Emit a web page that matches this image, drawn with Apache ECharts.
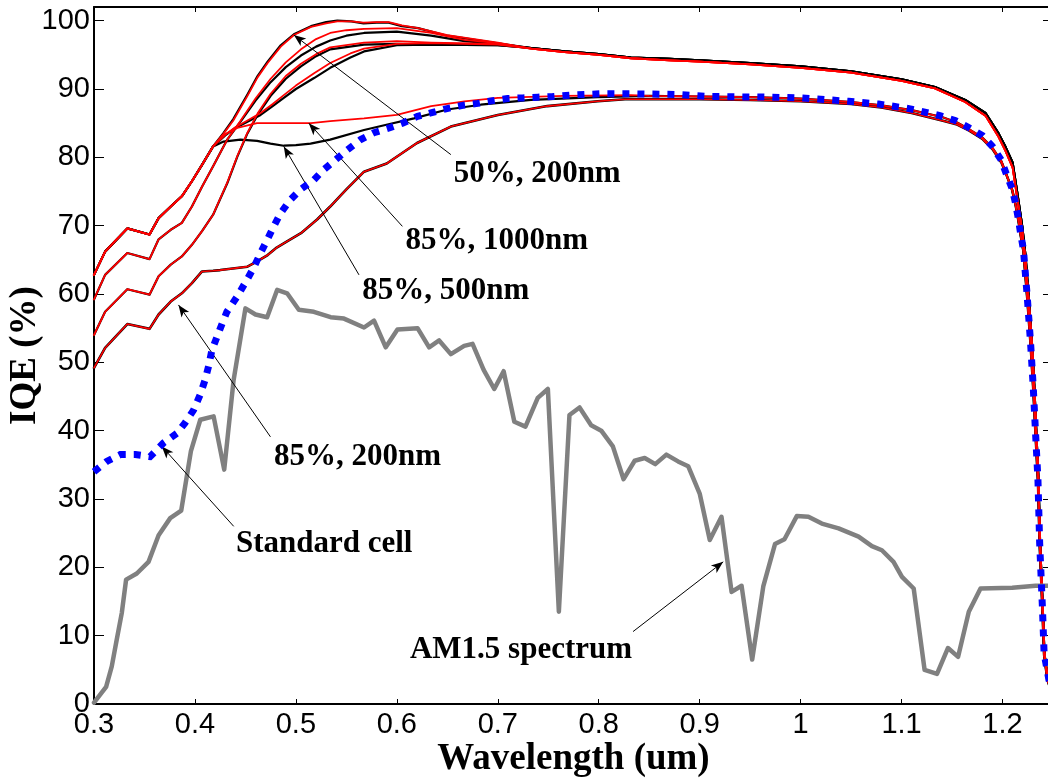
<!DOCTYPE html>
<html>
<head>
<meta charset="utf-8">
<script src="https://cdn.jsdelivr.net/npm/echarts@6.0.0/dist/echarts.min.js"></script>
<style>
html,body{margin:0;padding:0;background:#fff;}
#chart{width:1048px;height:779px;}
</style>
</head>
<body>
<div id="chart"></div>
<script>
// ---- Data ----
// common UV wavelengths (um) shared by the four starting branches
const wlUV = [0.300, 0.311, 0.333, 0.355, 0.364, 0.376, 0.387, 0.397, 0.407, 0.418];
const iqeA = [62.8, 66.2, 69.6, 68.7, 71.1, 72.8, 74.3, 76.5, 78.9, 81.6];
const iqeB = [59.2, 62.8, 66.0, 65.1, 68.0, 69.4, 70.4, 72.8, 75.7, 78.7];
const iqeC = [54.0, 57.4, 60.7, 59.9, 62.6, 64.3, 65.5, 67.2, 69.2, 71.6];
const iqeD = [49.2, 52.1, 55.6, 54.9, 57.0, 58.9, 60.1, 61.6, 63.3, 63.4];

// "50%, 200nm" (top curve), black and red
const u1Black = [[0.428,83.5],[0.438,85.6],[0.452,89.2],[0.462,91.9],[0.472,94.0],[0.485,96.4],[0.498,98.0],[0.515,99.2],[0.530,99.8],[0.541,100.0],[0.555,99.9],[0.567,99.6],[0.580,99.7],[0.592,99.7],[0.605,99.2],[0.621,98.9],[0.650,97.8],[0.700,96.7]];
const u1Red   = [[0.428,83.4],[0.438,85.4],[0.452,89.0],[0.462,91.7],[0.472,93.8],[0.485,96.2],[0.498,97.9],[0.515,99.1],[0.530,99.6],[0.541,99.9],[0.555,99.9],[0.567,99.7],[0.580,99.8],[0.592,99.8],[0.605,99.3],[0.621,98.9],[0.650,97.9],[0.700,96.8]];
// second upper curve pair
const u2Black = [[0.432,82.6],[0.445,85.2],[0.460,88.3],[0.475,91.0],[0.490,93.2],[0.505,94.9],[0.520,96.2],[0.534,97.1],[0.550,97.8],[0.5675,98.2],[0.600,98.4],[0.634,97.8],[0.667,97.0],[0.700,96.6]];
const u2Red   = [[0.432,82.6],[0.445,85.3],[0.460,88.6],[0.475,91.5],[0.490,93.9],[0.505,95.8],[0.520,97.3],[0.534,98.2],[0.550,98.6],[0.5675,98.8],[0.600,98.9],[0.634,98.2],[0.667,97.2],[0.700,96.7]];
// third upper curve pair
const u3Black = [[0.432,76.2],[0.442,80.1],[0.452,83.5],[0.462,86.2],[0.475,89.0],[0.490,91.5],[0.505,93.3],[0.520,94.8],[0.534,95.8],[0.5675,96.5],[0.600,96.6],[0.634,96.5],[0.700,96.4]];
const u3Red   = [[0.432,76.3],[0.442,80.2],[0.452,83.6],[0.462,86.4],[0.475,89.3],[0.490,91.9],[0.505,93.7],[0.520,95.1],[0.534,96.1],[0.5675,96.8],[0.600,97.0],[0.634,96.8],[0.700,96.6]];
// fourth upper curve pair (gentle rise)
const u4Black = [[0.430,83.2],[0.440,84.3],[0.452,85.2],[0.465,86.2],[0.477,87.5],[0.488,88.7],[0.500,90.0],[0.518,91.6],[0.534,93.1],[0.554,94.6],[0.5675,95.5],[0.600,96.4],[0.634,96.5],[0.700,96.4]];
const u4Red   = [[0.430,83.3],[0.440,84.4],[0.452,85.4],[0.465,86.5],[0.477,87.8],[0.488,89.1],[0.500,90.5],[0.518,92.3],[0.534,93.8],[0.554,95.2],[0.5675,95.9],[0.600,96.6],[0.634,96.7],[0.700,96.5]];
// shared long-wavelength part of the upper curves (black, and red just beneath)
const upperTail = [[0.733,96.0],[0.766,95.5],[0.800,95.1],[0.832,94.6],[0.870,94.4],[0.900,94.2],[0.950,93.8],[1.000,93.3],[1.050,92.6],[1.100,91.4],[1.133,90.3],[1.163,88.4],[1.183,86.5],[1.196,83.5],[1.203,81.5],[1.210,79.2],[1.2146,74.8],[1.2195,69.9],[1.2228,65.5],[1.2262,58.8],[1.2295,52.0],[1.2315,46.4],[1.2335,39.6],[1.2356,32.8],[1.2372,23.5],[1.2398,14.2],[1.2415,7.4],[1.2445,4.0],[1.250,1.5]];
const upperTailRed = [[0.733,95.9],[0.766,95.4],[0.800,95.0],[0.832,94.5],[0.870,94.2],[0.900,94.0],[0.950,93.6],[1.000,93.1],[1.050,92.4],[1.100,91.2],[1.133,90.1],[1.163,88.1],[1.183,86.1],[1.196,83.0],[1.203,80.9],[1.210,78.5],[1.2146,74.0],[1.2195,69.2],[1.2228,64.9],[1.2262,58.4],[1.2295,51.7],[1.2315,46.2],[1.2335,39.5],[1.2356,32.7],[1.2372,23.5],[1.2398,14.2],[1.2415,7.4],[1.2445,4.0],[1.250,1.5]];

// "85%, 1000nm" (red) and "85%, 500nm" (black)
const r1000 = [[0.430,83.4],[0.442,84.3],[0.4615,85.0],[0.490,85.0],[0.515,85.0],[0.534,85.3],[0.5675,85.7],[0.600,86.2],[0.634,87.5],[0.667,88.2],[0.700,88.7],[0.766,89.0],[0.832,89.1]];
const b500  = [[0.4284,82.3],[0.445,82.6],[0.4616,82.4],[0.4748,82.0],[0.488,81.7],[0.500,81.8],[0.5145,82.0],[0.534,82.6],[0.5675,84.0],[0.5907,84.8],[0.617,85.7],[0.650,87.0],[0.683,87.7],[0.733,88.4],[0.799,88.8]];
// "85%, 200nm"
const dMid = [[0.425,63.5],[0.452,64.0],[0.462,64.8],[0.472,65.7],[0.481,66.8],[0.490,67.6],[0.505,68.9],[0.521,70.9],[0.534,72.8],[0.550,75.3],[0.5675,77.9],[0.590,79.1],[0.620,82.1],[0.6535,84.5],[0.700,86.2],[0.749,87.5],[0.799,88.2],[0.826,88.5],[0.900,88.5],[0.950,88.4],[1.000,88.2],[1.050,87.8],[1.080,87.3],[1.110,86.5],[1.140,85.4],[1.155,84.8],[1.167,83.9],[1.180,82.7],[1.190,81.2],[1.199,79.2]];
// shared long-wavelength part of the lower curves
const lowerTail = [[0.850,89.0],[0.900,88.9],[0.950,88.8],[1.000,88.6],[1.050,88.1],[1.080,87.6],[1.110,86.9],[1.140,85.9],[1.155,85.1],[1.167,84.1],[1.180,82.9],[1.190,81.4],[1.199,79.4],[1.204,77.4],[1.2096,75.2],[1.213,73.0],[1.2157,70.8],[1.218,68.6],[1.2207,66.3],[1.2245,59.4],[1.2278,52.6],[1.2305,46.0],[1.2328,39.2],[1.2351,32.6],[1.2368,23.3],[1.2395,14.0],[1.2412,7.2],[1.2445,3.5],[1.250,1.2]];

// Standard cell (blue dotted)
const standardCell = [[0.300,34.0],[0.3126,35.5],[0.326,36.5],[0.341,36.5],[0.3556,36.2],[0.3688,38.2],[0.382,39.6],[0.390,41.1],[0.3986,43.0],[0.405,45.2],[0.410,47.4],[0.4135,49.4],[0.4168,51.8],[0.422,53.8],[0.427,55.7],[0.4317,57.4],[0.4417,59.6],[0.4516,62.1],[0.458,63.8],[0.465,66.0],[0.4715,67.9],[0.478,69.9],[0.4847,71.8],[0.4946,73.8],[0.5046,75.3],[0.5178,76.7],[0.5277,78.2],[0.539,79.6],[0.551,81.1],[0.5642,82.6],[0.5774,83.6],[0.5923,84.3],[0.6056,85.0],[0.6205,86.0],[0.6337,86.5],[0.6486,87.1],[0.665,87.6],[0.680,87.9],[0.695,88.3],[0.7098,88.6],[0.7247,88.7],[0.7396,88.8],[0.7545,88.9],[0.771,89.1],[0.786,89.2],[0.8025,89.3],[0.832,89.3],[0.8787,89.2],[0.910,88.9],[0.9713,88.8],[1.001,88.7],[1.0475,88.2],[1.0772,87.8],[1.1086,87.1],[1.138,86.1],[1.153,85.4],[1.166,84.4],[1.180,83.2],[1.190,81.6],[1.1987,79.6],[1.2037,77.6],[1.2096,75.4],[1.213,73.2],[1.2157,71.0],[1.218,68.8],[1.2207,66.5],[1.2245,59.6],[1.2278,52.8],[1.2305,46.2],[1.2328,39.4],[1.2351,32.8],[1.2368,23.5],[1.2395,14.2],[1.2412,7.4],[1.246,3.5],[1.250,2.0]];

// AM1.5 spectrum (grey, scaled)
const am15 = [[0.300,0.2],[0.312,2.5],[0.3176,5.5],[0.3225,9.4],[0.3275,13.3],[0.3318,18.2],[0.3424,19.1],[0.354,20.8],[0.364,24.7],[0.3755,27.2],[0.3864,28.3],[0.396,37.0],[0.4053,41.6],[0.4185,42.1],[0.429,34.3],[0.4383,47.4],[0.450,57.9],[0.460,57.0],[0.4715,56.6],[0.4814,60.6],[0.4913,60.1],[0.5029,57.7],[0.5178,57.4],[0.5344,56.6],[0.5476,56.4],[0.5675,55.1],[0.5774,56.1],[0.589,52.2],[0.6006,54.8],[0.6205,55.0],[0.632,52.2],[0.6419,53.2],[0.6535,51.2],[0.6667,52.4],[0.675,52.7],[0.686,48.9],[0.6965,46.1],[0.7058,48.7],[0.7164,41.3],[0.7274,40.6],[0.7396,44.8],[0.7496,46.1],[0.7605,13.5],[0.771,42.3],[0.781,43.4],[0.7925,40.8],[0.8025,40.0],[0.814,37.7],[0.8246,32.9],[0.8356,35.6],[0.8455,36.0],[0.856,35.1],[0.867,36.5],[0.8786,35.5],[0.8886,34.8],[0.900,30.8],[0.910,24.0],[0.9216,27.4],[0.9316,16.4],[0.9415,17.3],[0.952,6.5],[0.963,17.2],[0.9746,23.4],[0.984,24.1],[0.9962,27.5],[1.0077,27.4],[1.021,26.4],[1.0376,25.7],[1.0574,24.5],[1.0706,23.1],[1.0805,22.5],[1.092,20.8],[1.1004,18.6],[1.112,16.9],[1.1228,5.0],[1.1351,4.4],[1.146,8.2],[1.156,6.9],[1.1666,13.5],[1.1782,16.9],[1.2096,17.0],[1.2328,17.3],[1.250,17.3]];

// annotations: [x, y, text] and arrows [from, to]
const notes = [
  [0.739, 77.6, '50%, 200nm'],
  [0.699, 67.7, '85%, 1000nm'],
  [0.6486, 60.4, '85%, 500nm'],
  [0.561, 36.1, '85%, 200nm'],
  [0.528, 23.4, 'Standard cell'],
  [0.723, 7.9, 'AM1.5 spectrum']
];
const arrows = [
  [[0.6535, 80.4], [0.498, 97.9]],
  [[0.6055, 69.9], [0.5128, 85.0]],
  [[0.5625, 62.8], [0.488, 81.6]],
  [[0.4748, 39.1], [0.3837, 58.4]],
  [[0.4384, 26.0], [0.3672, 37.7]],
  [[0.834, 10.6], [0.9233, 20.8]]
];

// ---- Build ----
const pairs = (xs, ys) => xs.map((x, i) => [x, ys[i]]);
const headA = pairs(wlUV, iqeA), headB = pairs(wlUV, iqeB), headC = pairs(wlUV, iqeC), headD = pairs(wlUV, iqeD);
const lowerFrom1204 = lowerTail.filter(p => p[0] >= 1.204);

function iqeLine(data, color, width, z) {
  return {type: 'line', data, symbol: 'none', showSymbol: false, smooth: false,
    lineStyle: {color, width, join: 'round', cap: 'round'}, z, silent: true, animation: false};
}
const BLACK = '#000000', RED = '#ff0000';
const series = [
  iqeLine(headA.concat(u1Black, upperTail), BLACK, 2.2, 2),
  iqeLine(headB.concat(u2Black, upperTail), BLACK, 2.2, 2),
  iqeLine(headC.concat(u3Black, upperTail), BLACK, 2.2, 2),
  iqeLine(headA.concat(u4Black, upperTail), BLACK, 2.2, 2),
  iqeLine(headA.concat(b500, lowerTail), BLACK, 2.2, 2),
  iqeLine(headD.concat(dMid, lowerFrom1204), BLACK, 2.6, 2),
  iqeLine(headA.concat(u1Red, upperTailRed), RED, 1.8, 3),
  iqeLine(headB.concat(u2Red, upperTailRed), RED, 1.8, 3),
  iqeLine(headC.concat(u3Red, upperTailRed), RED, 1.8, 3),
  iqeLine(headA.concat(u4Red, upperTailRed), RED, 1.8, 3),
  iqeLine(headA.concat(r1000, lowerTail), RED, 1.8, 3),
  iqeLine(headD.concat(dMid, lowerFrom1204), RED, 1.6, 3),
  {type: 'line', data: am15, symbol: 'none', showSymbol: false,
   lineStyle: {color: '#808080', width: 4.5, join: 'round', cap: 'round'}, z: 4, silent: true, animation: false},
  {type: 'line', data: standardCell, symbol: 'none', showSymbol: false,
   lineStyle: {color: '#0000ff', width: 7, type: [7, 8], cap: 'butt', join: 'miter'}, z: 5, silent: true, animation: false},
  {type: 'scatter', data: notes, symbolSize: 0, z: 6, silent: true, animation: false,
   itemStyle: {opacity: 1, color: '#000'},
   label: {show: true, position: 'inside', formatter: p => p.value[2], color: '#000', opacity: 1,
     textBorderWidth: 0, textBorderColor: 'transparent', textShadowBlur: 0,
     fontFamily: 'Liberation Serif', fontWeight: 'bold', fontSize: 31, align: 'center', verticalAlign: 'middle'},
   markLine: {silent: true, animation: false, symbol: ['none', 'arrow'], symbolSize: [7, 12],
     lineStyle: {color: '#000', width: 1, type: 'solid', opacity: 1}, label: {show: false},
     emphasis: {disabled: true},
     data: arrows.map(a => [{coord: a[0]}, {coord: a[1]}])}}
];

const tickFont = {fontFamily: 'Liberation Sans', fontSize: 29, color: '#000'};
const option = {
  backgroundColor: '#fff',
  animation: false,
  grid: {left: 94, top: 7, width: 959, height: 697, containLabel: false, outerBoundsMode: 'none'},
  xAxis: [
    {type: 'value', min: 0.3, max: 1.25, interval: 0.1, position: 'bottom',
     axisLine: {show: true, onZero: false, lineStyle: {color: '#000', width: 2}},
     axisTick: {show: true, inside: true, length: 5, lineStyle: {color: '#000', width: 1}},
     axisLabel: Object.assign({margin: 6, showMaxLabel: false, formatter: v => String(+v.toFixed(2))}, tickFont),
     splitLine: {show: false},
     name: 'Wavelength (um)', nameLocation: 'middle', nameGap: 37, nameMoveOverlap: false,
     nameTextStyle: {fontFamily: 'Liberation Serif', fontWeight: 'bold', fontSize: 37, color: '#000'}},
    {type: 'value', min: 0.3, max: 1.25, interval: 0.1, position: 'top',
     axisLine: {show: true, onZero: false, lineStyle: {color: '#000', width: 2}},
     axisTick: {show: true, inside: true, length: 5, lineStyle: {color: '#000', width: 1}},
     axisLabel: {show: false}, splitLine: {show: false}}
  ],
  yAxis: [
    {type: 'value', min: 0, max: 102, interval: 10, position: 'left',
     axisLine: {show: true, onZero: false, lineStyle: {color: '#000', width: 2}},
     axisTick: {show: true, inside: true, length: 10, lineStyle: {color: '#000', width: 1}},
     axisLabel: Object.assign({margin: 4}, tickFont),
     splitLine: {show: false},
     name: 'IQE (%)', nameLocation: 'middle', nameGap: 50, nameRotate: 90, nameMoveOverlap: false,
     nameTextStyle: {fontFamily: 'Liberation Serif', fontWeight: 'bold', fontSize: 37, color: '#000'}},
    {type: 'value', min: 0, max: 102, interval: 10, position: 'right',
     axisLine: {show: true, onZero: false, lineStyle: {color: '#000', width: 2}},
     axisTick: {show: true, inside: true, length: 10, lineStyle: {color: '#000', width: 1}},
     axisLabel: {show: false}, splitLine: {show: false}}
  ],
  series
};
const chart = echarts.init(document.getElementById('chart'), null, {renderer: 'canvas'});
chart.setOption(option);
</script>
</body>
</html>
